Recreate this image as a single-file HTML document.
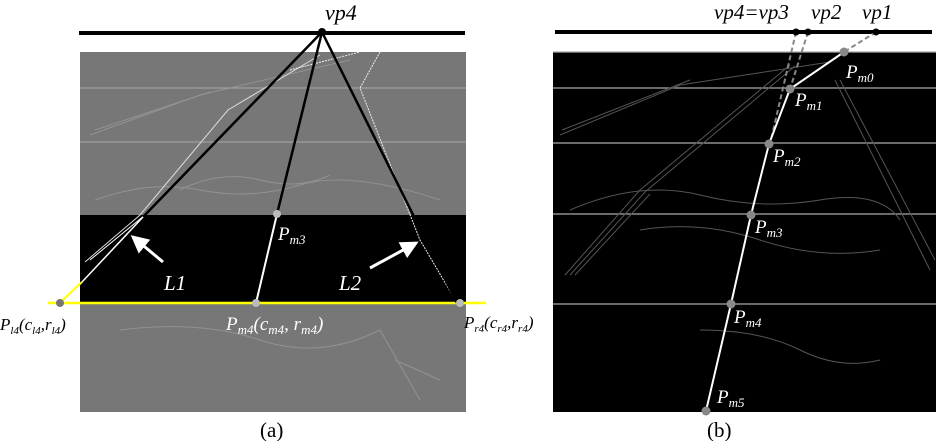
<!DOCTYPE html>
<html><head><meta charset="utf-8"><style>
html,body{margin:0;padding:0;background:#fff;width:938px;height:441px;overflow:hidden}
text{font-family:"Liberation Serif",serif;font-style:italic;fill:#000}
.w{fill:#fff}
.s{font-size:13px}
.s2{font-size:11px}
</style></head><body>
<svg width="938" height="441" viewBox="0 0 938 441">
<defs><marker id="ah" markerWidth="6" markerHeight="6" refX="5" refY="3" orient="auto"><path d="M0,0 L6,3 L0,6 Z" fill="#fff"/></marker></defs>
<g>
<rect x="80" y="52" width="386" height="360" fill="#777"/>
<rect x="80" y="215" width="386" height="88" fill="#000"/>
<line x1="80" y1="88" x2="466" y2="88" stroke="#aaa" stroke-width="1"/>
<line x1="80" y1="142" x2="466" y2="142" stroke="#aaa" stroke-width="1"/>
<g stroke="#999" fill="none" stroke-width="1" opacity="0.8">
<path d="M90,135 L200,95 L350,60"/><path d="M95,130 L210,92"/>
<path d="M95,200 Q150,180 200,190 T300,185 T440,200"/>
<path d="M180,190 Q220,170 260,180 T330,175"/>
<path d="M120,330 Q200,320 260,340 T380,330"/>
<path d="M380,330 L420,400"/><path d="M395,360 L440,380"/>
</g>
<path d="M85,262 L140,215 L228,110 L320,55" stroke="#ddd" fill="none" stroke-width="1"/>
<path d="M90,260 L145,215" stroke="#fff" fill="none" stroke-width="1"/>
<path d="M380,52 L360,88 L420,240 L457,303" stroke="#eee" fill="none" stroke-width="1" stroke-dasharray="2,1"/>
<path d="M290,70 L360,52" stroke="#eee" stroke-dasharray="2,1" fill="none"/>
<line x1="79" y1="33" x2="465" y2="33" stroke="#000" stroke-width="4"/>
<line x1="48" y1="303" x2="486" y2="303" stroke="#ff0" stroke-width="2.5"/>
<line x1="60" y1="303" x2="82" y2="282" stroke="#ff0" stroke-width="2"/>
<line x1="322" y1="32" x2="143" y2="217" stroke="#000" stroke-width="2.5"/>
<line x1="143" y1="217" x2="82" y2="282" stroke="#fff" stroke-width="1.5"/>
<line x1="322" y1="32" x2="457" y2="303" stroke="#000" stroke-width="2.5"/>
<line x1="322" y1="32" x2="277" y2="214" stroke="#000" stroke-width="2.5"/>
<line x1="277" y1="214" x2="256" y2="303" stroke="#fff" stroke-width="2"/>
<line x1="163" y1="262" x2="133" y2="237" stroke="#fff" stroke-width="3" marker-end="url(#ah)"/>
<line x1="370" y1="268" x2="416" y2="243" stroke="#fff" stroke-width="3" marker-end="url(#ah)"/>
<circle cx="322" cy="32" r="4" fill="#000"/>
<circle cx="60" cy="303" r="4" fill="#777"/>
<circle cx="256" cy="303" r="4" fill="#bbb"/>
<circle cx="460" cy="303" r="4" fill="#bbb"/>
<circle cx="277" cy="214" r="4" fill="#bbb"/>
<text x="325" y="20" style="font-size:22px">vp4</text>
<text x="164" y="290" class="w" style="font-size:21px">L1</text>
<text x="339" y="290" class="w" style="font-size:21px">L2</text>
<text x="278" y="240" class="w" style="font-size:19px">P<tspan class="s" dy="4">m3</tspan></text>
<text x="226" y="330" class="w" style="font-size:19px">P<tspan class="s" dy="4">m4</tspan><tspan dy="-4">(c</tspan><tspan class="s" dy="4">m4</tspan><tspan dy="-4">, r</tspan><tspan class="s" dy="4">m4</tspan><tspan dy="-4">)</tspan></text>
<text x="0" y="330" style="font-size:17px">P<tspan class="s2" dy="4">l4</tspan><tspan dy="-4">(c</tspan><tspan class="s2" dy="4">l4</tspan><tspan dy="-4">,r</tspan><tspan class="s2" dy="4">l4</tspan><tspan dy="-4">)</tspan></text>
<text x="464" y="328" style="font-size:17px">P<tspan class="s2" dy="4">r4</tspan><tspan dy="-4">(c</tspan><tspan class="s2" dy="4">r4</tspan><tspan dy="-4">,r</tspan><tspan class="s2" dy="4">r4</tspan><tspan dy="-4">)</tspan></text>
<text x="260" y="437" style="font-size:21px;font-style:normal">(a)</text>
</g>
<g>
<rect x="553" y="52" width="383" height="360" fill="#000"/>
<g stroke="#aaa" stroke-width="1.3">
<line x1="553" y1="88" x2="936" y2="88"/><line x1="553" y1="143" x2="936" y2="143"/>
<line x1="553" y1="214" x2="936" y2="214"/><line x1="553" y1="304" x2="936" y2="304"/>
<line x1="553" y1="52" x2="936" y2="52"/>
</g>
<g stroke="#555" fill="none" stroke-width="1">
<path d="M560,135 L680,85 L830,62"/><path d="M562,130 L690,80"/>
<path d="M565,275 L640,190 L790,65"/><path d="M570,275 L645,192 L795,66"/><path d="M575,275 L650,194"/>
<path d="M835,80 L930,270"/><path d="M840,80 L935,260"/>
<path d="M570,210 Q640,180 700,195 T820,200 T900,220"/>
<path d="M640,230 Q700,220 760,240 T880,250"/>
<path d="M700,330 Q760,330 800,350 T880,360"/>
</g>
<line x1="555" y1="32" x2="932" y2="32" stroke="#000" stroke-width="4"/>
<g stroke="#888" stroke-width="2" stroke-dasharray="5,3">
<line x1="796" y1="32" x2="770" y2="144"/><line x1="808" y1="32" x2="790" y2="89"/><line x1="876" y1="32" x2="844" y2="52"/>
</g>
<polyline points="844,52 790,89 769,144 751,215 731,304 706,411" fill="none" stroke="#fff" stroke-width="2"/>
<g fill="#888">
<circle cx="844" cy="52" r="4.5"/><circle cx="790" cy="89" r="4.5"/><circle cx="769" cy="144" r="4.5"/>
<circle cx="751" cy="215" r="4.5"/><circle cx="731" cy="304" r="4.5"/><circle cx="706" cy="411" r="4.5"/>
</g>
<g fill="#000"><circle cx="796" cy="32" r="3.5"/><circle cx="808" cy="32" r="3.5"/><circle cx="876" cy="32" r="3.5"/></g>
<text x="714" y="19" style="font-size:21px">vp4=vp3</text>
<text x="811" y="19" style="font-size:21px">vp2</text>
<text x="862" y="19" style="font-size:21px">vp1</text>
<text x="846" y="78" class="w" style="font-size:19px">P<tspan class="s" dy="4">m0</tspan></text>
<text x="795" y="106" class="w" style="font-size:19px">P<tspan class="s" dy="4">m1</tspan></text>
<text x="773" y="162" class="w" style="font-size:19px">P<tspan class="s" dy="4">m2</tspan></text>
<text x="755" y="233" class="w" style="font-size:19px">P<tspan class="s" dy="4">m3</tspan></text>
<text x="734" y="323" class="w" style="font-size:19px">P<tspan class="s" dy="4">m4</tspan></text>
<text x="717" y="403" class="w" style="font-size:19px">P<tspan class="s" dy="4">m5</tspan></text>
<text x="707" y="437" style="font-size:21px;font-style:normal">(b)</text>
</g>
</svg>
</body></html>
